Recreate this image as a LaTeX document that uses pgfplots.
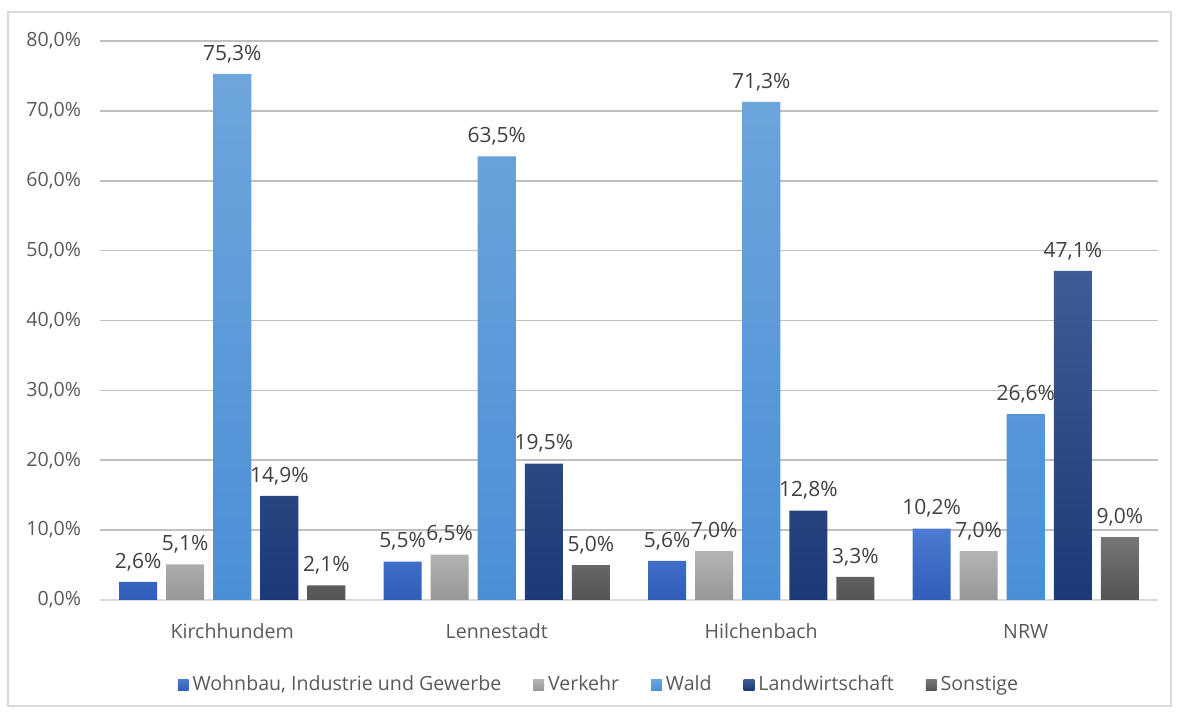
\documentclass[border=0pt]{standalone}
\usepackage{pgfplots}
\pgfplotsset{compat=1.18}
\usepackage{fontspec}
\setmainfont{Open Sans}
\definecolor{txt}{HTML}{595959}
\definecolor{lbl}{HTML}{404040}
\definecolor{grid}{HTML}{D9D9D9}
\definecolor{wohnT}{HTML}{4C7BD3}
\definecolor{wohnB}{HTML}{2F5DB8}
\definecolor{verkT}{HTML}{B4B4B4}
\definecolor{verkB}{HTML}{979797}
\definecolor{waldT}{HTML}{6EA5DC}
\definecolor{waldB}{HTML}{4A8FD6}
\definecolor{landT}{HTML}{3E5C96}
\definecolor{landB}{HTML}{1D3A78}
\definecolor{sonsT}{HTML}{767676}
\definecolor{sonsB}{HTML}{545454}
\begin{document}
\begin{tikzpicture}
\path[use as bounding box] (0,0) rectangle (590pt,356.5pt);
\draw[grid, line width=0.9pt] (4pt,3.5pt) rectangle (585.5pt,350.5pt);
\begin{axis}[
  at={(50pt,56.5pt)}, anchor=south west,
  scale only axis, width=529pt, height=279.5pt,
  xmin=-0.5, xmax=3.5, ymin=0, ymax=80,
  ytick={0,10,...,80},
  xtick={0,1,2,3},
  xticklabels={Kirchhundem,Lennestadt,Hilchenbach,NRW},
  major tick length=0pt,
  xtick style={draw=none}, ytick style={draw=none},
  xmajorgrids=false,
  axis line style={draw=none},
  ymajorgrids, grid style={grid, line width=0.8pt},
  /pgf/number format/.cd, fixed, fixed zerofill, precision=1, use comma, assume math mode=true,
  /pgfplots/.cd,
  yticklabel={\pgfmathprintnumber{\tick}\%},
  yticklabel style={font=\fontsize{9.8}{11}\selectfont, text=txt, xshift=-6pt},
  xticklabel style={font=\fontsize{9.8}{11}\selectfont, text=txt, yshift=-8.5pt},
  ybar, bar width=0.144,
  nodes near coords={\pgfmathprintnumber[fixed, fixed zerofill, precision=1, use comma, assume math mode=true]{\pgfplotspointmeta}\%},
  every node near coord/.append style={font=\fontsize{10.5}{12}\selectfont, text=lbl, yshift=2pt},
  legend style={at={(0.4726,-0.152)}, anchor=center, legend columns=-1, draw=none, fill=none,
    font=\fontsize{9.8}{11}\selectfont, text=txt,
    /tikz/every even column/.append style={column sep=14pt},
    legend cell align=left},
  legend image code/.code={\path[#1, draw=none] (0pt,-2.7pt) rectangle (5.4pt,2.7pt);},
  clip=false,
]
\draw[grid, line width=0.8pt] (rel axis cs:0,0) -- (rel axis cs:1,0);
\addplot[bar shift=-0.356, draw=none, top color=wohnT, bottom color=wohnB] coordinates {(0,2.6) (1,5.5) (2,5.6) (3,10.2)};
\addplot[bar shift=-0.178, draw=none, top color=verkT, bottom color=verkB] coordinates {(0,5.1) (1,6.5) (2,7.0) (3,7.0)};
\addplot[bar shift=0, draw=none, top color=waldT, bottom color=waldB] coordinates {(0,75.3) (1,63.5) (2,71.3) (3,26.6)};
\addplot[bar shift=0.178, draw=none, top color=landT, bottom color=landB] coordinates {(0,14.9) (1,19.5) (2,12.8) (3,47.1)};
\addplot[bar shift=0.356, draw=none, top color=sonsT, bottom color=sonsB] coordinates {(0,2.1) (1,5.0) (2,3.3) (3,9.0)};
\legend{{Wohnbau, Industrie und Gewerbe},Verkehr,Wald,Landwirtschaft,Sonstige}
\end{axis}
\end{tikzpicture}
\end{document}
